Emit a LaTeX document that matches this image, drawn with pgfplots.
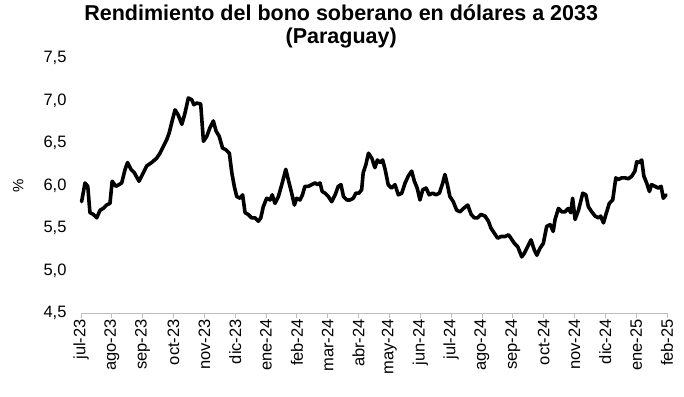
\documentclass[border=0pt]{standalone}
\usepackage{pgfplots}
\pgfplotsset{compat=1.18}
\usepackage{fontspec}
\setmainfont{Liberation Sans}
\definecolor{axisgray}{RGB}{190,190,190}
\begin{document}
\begin{tikzpicture}
\begin{axis}[
  scale only axis,
  width=586bp, height=255bp,
  xmin=0, xmax=19,
  ymin=4.5, ymax=7.5,
  axis x line*=bottom,
  axis y line*=left,
  y axis line style={draw=none},
  x axis line style={axisgray, line width=0.8bp},
  xtick={0,...,19},
  xticklabels={jul-23,ago-23,sep-23,oct-23,nov-23,dic-23,ene-24,feb-24,mar-24,abr-24,may-24,jun-24,jul-24,ago-24,sep-24,oct-24,nov-24,dic-24,ene-25,feb-25},
  xticklabel style={rotate=90, anchor=east, font=\fontsize{16.5bp}{18bp}\selectfont, inner sep=1bp, xshift=0bp},
  xtick style={axisgray, line width=0.8bp},
  tick align=outside,
  major tick length=5bp,
  ytick={4.5,5,5.5,6,6.5,7,7.5},
  ytick style={draw=none},
  yticklabel style={font=\fontsize{16.5bp}{18bp}\selectfont, xshift=-6bp},
  /pgf/number format/assume math mode=true,
  /pgf/number format/.cd, use comma, fixed, fixed zerofill, precision=1,
  /pgfplots/.cd,
  ylabel={\%},
  ylabel style={font=\fontsize{15bp}{16bp}\selectfont, at={(axis description cs:-0.107,0.5)}, anchor=center},
  title={\textbf{Rendimiento del bono soberano en dólares a 2033}\\\textbf{(Paraguay)}},
  title style={align=center, font=\fontsize{21.5bp}{23bp}\selectfont, at={(axis description cs:0.444,1)}, anchor=south, yshift=0bp},
  clip=false,
]
\addplot[black, line width=3.6bp, line join=round, line cap=round] coordinates {
(0.02,5.81) (0.13,6.03) (0.22,5.99) (0.29,5.68) (0.40,5.66) (0.51,5.62) (0.62,5.71) (0.72,5.73) (0.83,5.77) (0.94,5.79)
(1.01,6.05) (1.13,5.99) (1.23,6.01) (1.32,6.03) (1.43,6.19) (1.51,6.27) (1.62,6.19) (1.73,6.15) (1.88,6.05)
(2.02,6.15) (2.13,6.23) (2.29,6.27) (2.45,6.32) (2.56,6.38) (2.67,6.46) (2.78,6.54) (2.86,6.62)
(2.97,6.78) (3.05,6.89) (3.15,6.83) (3.27,6.72) (3.37,6.85) (3.48,7.03) (3.59,7.01) (3.66,6.95) (3.75,6.97) (3.88,6.96)
(3.97,6.52) (4.08,6.58) (4.18,6.68) (4.29,6.76) (4.38,6.64) (4.48,6.58) (4.59,6.44) (4.70,6.42) (4.81,6.38) (4.89,6.15)
(4.97,5.99) (5.05,5.87) (5.16,5.85) (5.24,5.89) (5.32,5.68) (5.42,5.66) (5.53,5.62) (5.64,5.62) (5.75,5.58) (5.83,5.62)
(5.91,5.75) (6.02,5.85) (6.13,5.83) (6.20,5.89) (6.29,5.79) (6.40,5.87) (6.51,6.01) (6.64,6.19) (6.72,6.07) (6.83,5.91)
(6.92,5.77) (6.99,5.85) (7.10,5.83) (7.18,5.89) (7.26,5.99) (7.37,5.99) (7.48,6.01) (7.59,6.03) (7.67,6.01) (7.75,6.03)
(7.82,5.93) (7.91,5.91) (8.02,5.87) (8.13,5.81) (8.24,5.89) (8.34,5.99) (8.43,6.01) (8.51,5.87) (8.62,5.83) (8.72,5.83)
(8.83,5.85) (8.91,5.91) (9.01,5.91) (9.10,5.95) (9.15,6.15) (9.24,6.25) (9.32,6.38) (9.43,6.32) (9.53,6.21) (9.61,6.30)
(9.70,6.27) (9.78,6.30) (9.86,6.19) (9.96,6.01) (10.07,5.97) (10.18,6.01) (10.29,5.89) (10.40,5.91) (10.51,6.03) (10.61,6.11)
(10.72,6.17) (10.81,6.05) (10.90,5.97) (10.99,5.83) (11.08,5.95) (11.19,5.97) (11.29,5.89) (11.40,5.91) (11.51,5.89) (11.62,5.91)
(11.73,6.03) (11.80,6.13) (11.88,6.01) (11.96,5.87) (12.07,5.81) (12.18,5.71) (12.29,5.69) (12.40,5.73) (12.54,5.77) (12.65,5.66)
(12.75,5.62) (12.86,5.62) (12.97,5.66) (13.10,5.64) (13.21,5.58) (13.29,5.50) (13.40,5.44) (13.51,5.38) (13.62,5.40) (13.75,5.40)
(13.86,5.42) (13.94,5.38) (14.05,5.32) (14.16,5.28) (14.29,5.16) (14.37,5.20) (14.48,5.28) (14.59,5.36) (14.70,5.24) (14.78,5.18)
(14.88,5.26) (14.99,5.32) (15.10,5.52) (15.21,5.54) (15.31,5.46) (15.37,5.60) (15.48,5.73) (15.59,5.69) (15.69,5.69) (15.80,5.73)
(15.88,5.68) (15.94,5.85) (16.02,5.60) (16.13,5.71) (16.27,5.91) (16.37,5.89) (16.45,5.75) (16.56,5.69) (16.67,5.64) (16.77,5.62)
(16.85,5.64) (16.94,5.56) (17.02,5.66) (17.13,5.79) (17.24,5.83) (17.34,6.09) (17.42,6.07) (17.53,6.09) (17.64,6.09) (17.75,6.08)
(17.86,6.11) (17.96,6.17) (18.02,6.28) (18.10,6.27) (18.18,6.30) (18.25,6.11) (18.34,6.03) (18.43,5.93) (18.50,6.01) (18.61,5.99)
(18.72,5.97) (18.81,5.99) (18.88,5.85) (18.97,5.89)
};
\end{axis}
\pgfresetboundingbox
\path[use as bounding box] (-81bp,-84bp) rectangle (603bp,313bp);
\end{tikzpicture}
\end{document}
